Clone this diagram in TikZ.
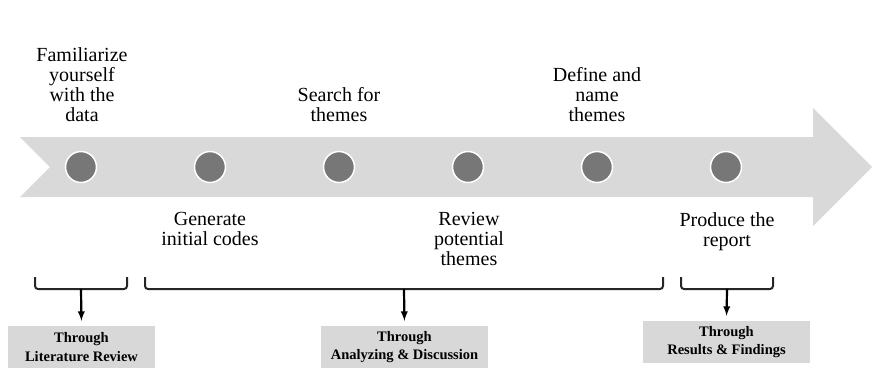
\documentclass[tikz,border=0pt]{standalone}
\usepackage{fontspec}
\setmainfont{Liberation Serif}
\usetikzlibrary{arrows}
\definecolor{bandgray}{HTML}{D9D9D9}
\definecolor{dotgray}{HTML}{777777}
\definecolor{boxgray}{HTML}{D8D8D8}

\begin{document}
\begin{tikzpicture}[
		x=1pt, y=-1pt,
		phase/.style={circle,draw=white,fill=dotgray,line width=1.5pt,
		inner sep=0pt,minimum size=31pt},
		stagetext/.style={align=center,inner sep=0pt,
		font=\fontsize{20}{20}\selectfont},
		outcome/.style={fill=boxgray,align=center,inner sep=0pt,
		minimum height=42pt,font=\bfseries\fontsize{14.5}{18.5}\selectfont},
		brace/.style={draw=black!85,line width=2pt,rounded corners=3pt},
		link/.style={>=latex,draw=black,line width=2.2pt,->,shorten >=5pt}
		]
		\useasboundingbox (0,0) rectangle (872,368);
		% timeline arrow
		\fill[bandgray] (20,137) -- (813,137) -- (813,108) -- (872,167)
		-- (813,226) -- (813,197) -- (20,197) -- (50,167) -- cycle;
		% phases
		\node[phase] (p1) at (81,167) {};
		\node[phase] (p2) at (210,167) {};
		\node[phase] (p3) at (339,167) {};
		\node[phase] (p4) at (468,167) {};
		\node[phase] (p5) at (597,167) {};
		\node[phase] (p6) at (726,167) {};
		\node[stagetext,anchor=south] (t1) at (82,122) {Familiarize\\yourself\\with the\\data};
		\node[stagetext,anchor=south] (t3) at (339,122) {Search for\\themes};
		\node[stagetext,anchor=south] (t5) at (597,122) {Define and\\name\\themes};
		\node[stagetext,anchor=north] (t2) at (210,212) {Generate\\initial codes};
		\node[stagetext,anchor=north] (t4) at (469,212) {Review\\potential\\themes};
		\node[stagetext,anchor=north] (t6) at (727,212) {Produce the\\report};
		% outcomes
		\node[outcome,minimum width=147pt] (lit) at (81.5,347) {Through\\Literature Review};
		\node[outcome,minimum width=167pt] (ana) at (404.5,347) {Through\\Analyzing \& Discussion};
		\node[outcome,minimum width=167pt] (res) at (726.5,342) {Through\\Results \& Findings};
		% braces
		\coordinate (b1l) at (35,277);
		\coordinate (b1m) at (81,289);
		\coordinate (b1r) at (127,277);
		\coordinate (b2l) at (145,277);
		\coordinate (b2m) at (404,289);
		\coordinate (b2r) at (663,277);
		\coordinate (b3l) at (681,277);
		\coordinate (b3m) at (727,289);
		\coordinate (b3r) at (773,277);
		\draw[brace] (b1l) |- (b1m) -| (b1r);
		\draw[brace] (b2l) |- (b2m) -| (b2r);
		\draw[brace] (b3l) |- (b3m) -| (b3r);
		\draw[link] (b1m) -- (lit.north);
		\draw[link] (b2m) -- (ana.north);
		\draw[link] (b3m) -- (res.north);
	\end{tikzpicture}
\end{document}
